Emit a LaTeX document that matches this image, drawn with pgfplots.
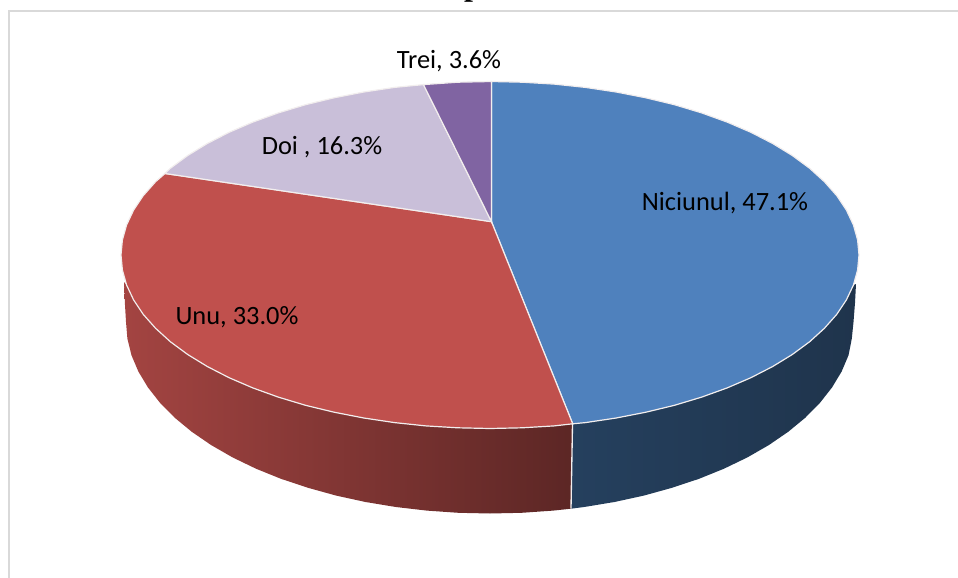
\documentclass[border=0pt]{standalone}
\usepackage{pgfplots}
\pgfplotsset{compat=1.18}
\usepackage{fontspec}
\setmainfont{Carlito}
\newfontfamily\titlefont{Liberation Serif}
\definecolor{cBlue}{HTML}{4F81BD}
\definecolor{cRed}{HTML}{C0504D}
\definecolor{cLilac}{HTML}{C9BFD9}
\definecolor{cPurple}{HTML}{8064A2}
\definecolor{cFrame}{HTML}{D9D9D9}
\definecolor{cEdge}{HTML}{F2EEEE}
\definecolor{cNavyA}{HTML}{25405E}
\definecolor{cNavyB}{HTML}{1F344C}
\tikzset{lab/.style={font=\fontsize{19.8}{22}\selectfont, text=black, inner sep=0pt}}
\begin{document}
\begin{tikzpicture}
\useasboundingbox (0,0) rectangle (718.5pt,433.5pt);
\clip (0,0) rectangle (718.5pt,433.5pt);
\begin{axis}[
  at={(0,0)}, anchor=south west,
  scale only axis, width=718.5pt, height=433.5pt,
  xmin=0, xmax=958, ymin=0, ymax=578, y dir=reverse,
  hide axis, clip=false,
]
% chart frame
\addplot[cFrame, line width=1.5pt] coordinates {(9,600) (9,11) (970,11)};
% side of the "Niciunul" slice
\addplot[draw=none, left color=cNavyA, middle color=cNavyB, right color=cNavyB] coordinates {
(856,284) (853.4,285.1) (846.4,299.9) (836.8,314.3) (824.4,328.3) (809.6,341.75) (792.3,354.5)
(772.7,366.5) (750.9,377.7) (727.2,387.9) (701.7,397.1) (674.5,405.3) (645.9,412.2) (616.2,418)
(585.5,422.6) (572.5,424)
(571,508.7) (584.2,507) (614.5,502) (643.8,495.6) (672,487.8) (698.8,478.9) (724,468.7) (747.4,457.4)
(768.8,445.1) (788.2,431.8) (805.2,417.8) (819.9,402.9) (832,387.5) (841.6,371.6) (848.5,355.3)
(851.8,338.7) (853.5,322) (855,303) (856,284)} -- cycle;
% side of the "Unu" slice
\addplot[draw=none, left color=cRed!85!black, right color=cRed!48!black] coordinates {
(572.5,424) (554.1,425.9) (522.2,427.8) (490,428.5) (457.8,427.8) (425.9,425.9) (394.5,422.6)
(363.8,418) (334.1,412.2) (305.5,405.3) (278.3,397.1) (252.8,387.9) (229.1,377.7) (207.3,366.5)
(187.7,354.5) (170.4,341.75) (155.6,328.3) (143.2,314.3) (133.6,299.9) (126.6,285.1) (124,282)
(125,305) (126,322) (127.4,338.7) (131.5,355.3) (138.4,371.6) (148,387.5) (160.1,402.9) (174.8,417.8)
(191.8,431.8) (211.2,445.1) (232.6,457.4) (256,468.7) (281.2,478.9) (308,487.8) (336.2,495.6)
(365.5,502) (395.8,507) (426.8,510.6) (458.3,512.8) (490,513.5) (521.7,512.8) (553.2,510.6) (571,508.7)} -- cycle;
\addplot[cEdge, line width=1pt] coordinates {(572.5,424) (571,508.7)};
% top: Niciunul
\addplot[fill=cBlue, draw=cEdge, line width=0.9pt] coordinates {
(491.5,221.7) (491.5,81.5) (522.2,82.2) (554.1,84.1) (585.5,87.4) (616.2,92) (645.9,97.8) (674.5,104.7)
(701.7,112.9) (727.2,122.1) (750.9,132.3) (772.7,143.5) (792.3,155.5) (809.6,168.25) (824.4,181.7)
(836.8,195.7) (846.4,210.1) (853.4,224.9) (857.6,239.9) (859,255) (857.6,270.1) (853.4,285.1)
(846.4,299.9) (836.8,314.3) (824.4,328.3) (809.6,341.75) (792.3,354.5) (772.7,366.5) (750.9,377.7)
(727.2,387.9) (701.7,397.1) (674.5,405.3) (645.9,412.2) (616.2,418) (585.5,422.6) (572.7,423.8)} -- cycle;
% top: Unu
\addplot[fill=cRed, draw=cEdge, line width=0.9pt] coordinates {
(491.5,221.7) (572.7,423.8) (554.1,425.9) (522.2,427.8) (490,428.5) (457.8,427.8) (425.9,425.9)
(394.5,422.6) (363.8,418) (334.1,412.2) (305.5,405.3) (278.3,397.1) (252.8,387.9) (229.1,377.7)
(207.3,366.5) (187.7,354.5) (170.4,341.75) (155.6,328.3) (143.2,314.3) (133.6,299.9) (126.6,285.1)
(122.4,270.1) (121,255) (122.4,239.9) (126.6,224.9) (133.6,210.1) (143.2,195.7) (155.6,181.7) (165,173.5)} -- cycle;
% top: Doi
\addplot[fill=cLilac, draw=cEdge, line width=0.9pt] coordinates {
(491.5,221.7) (165,173.5) (170.4,168.25) (187.7,155.5) (207.3,143.5) (229.1,132.3) (252.8,122.1)
(278.3,112.9) (305.5,104.7) (334.1,97.8) (363.8,92) (394.5,87.4) (423.5,84.6)} -- cycle;
% top: Trei
\addplot[fill=cPurple, draw=cEdge, line width=0.9pt] coordinates {
(491.5,221.7) (423.5,84.6) (457.8,82.2) (491.5,81.5)} -- cycle;
% labels
\node[lab] at (axis cs:725,203) {Niciunul, 47.1\%};
\node[lab] at (axis cs:237,317) {Unu, 33.0\%};
\node[lab] at (axis cs:322,147) {Doi , 16.3\%};
\node[lab] at (axis cs:449,61) {Trei, 3.6\%};
% the foot of the title, cut off by the edge of the picture
\node[anchor=base, font=\titlefont\bfseries\fontsize{24}{26}\selectfont] at (axis cs:473,-5) {p};
\node[anchor=base, font=\titlefont\bfseries\fontsize{24}{26}\selectfont] at (axis cs:574,-6) {,};
\end{axis}
\end{tikzpicture}
\end{document}
